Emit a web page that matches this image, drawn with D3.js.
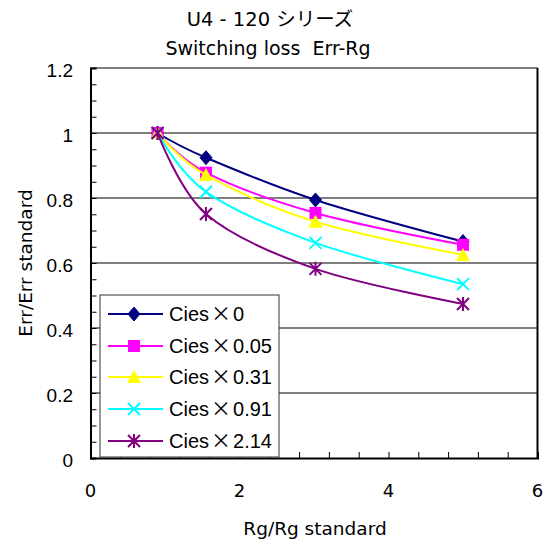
<!DOCTYPE html>
<html><head><meta charset="utf-8">
<script src="https://cdn.jsdelivr.net/npm/d3@7"></script>
<style>body{margin:0;background:#fff}svg{display:block}text{white-space:pre}</style>
</head><body>
<script>
const xValues = [0.9, 1.55, 3.02, 5.0];
const seriesNames = ["Cies×0", "Cies×0.05", "Cies×0.31", "Cies×0.91", "Cies×2.14"];
const s0 = [1.0, 0.924, 0.794, 0.666];
const s1 = [1.0, 0.878, 0.754, 0.656];
const s2 = [1.0, 0.871, 0.727, 0.625];
const s3 = [1.0, 0.819, 0.662, 0.535];
const s4 = [1.0, 0.751, 0.582, 0.474];
const yTicks = [0, 0.2, 0.4, 0.6, 0.8, 1, 1.2];
const xTicks = [0, 2, 4, 6];
const titleLines = ["U4 - 120 シリーズ", "Switching loss  Err-Rg"];
const xLabel = "Rg/Rg standard";
const yLabel = "Err/Err standard";

const colors = ["#000080", "#FF00FF", "#FFFF00", "#00FFFF", "#800080"];
const shapes = ["diamond", "square", "triangle", "x", "star"];
const allSeries = [s0, s1, s2, s3, s4];

const W = 549, H = 539;
const L = 90.5, R = 537.5, T = 68, B = 458;
const svg = d3.select("body").append("svg").attr("width", W).attr("height", H);
const font = "'DejaVu Sans', 'Noto Sans CJK JP', sans-serif";
const arial = "'Liberation Sans', Arial, sans-serif";
const cjk = "'Noto Sans CJK JP', sans-serif";

const x = d3.scaleLinear().domain([0, 6]).range([L, R]);
const y = d3.scaleLinear().domain([0, 1.2]).range([B, T]);

// titles
svg.append("text").attr("x", 270).attr("y", 26).attr("text-anchor", "middle")
  .style("font-family", font).style("font-size", "19.5px").text(titleLines[0]);
svg.append("text").attr("x", 268).attr("y", 55).attr("text-anchor", "middle")
  .style("font-family", font).style("font-size", "19px").text(titleLines[1]);

// gridlines
svg.append("g").selectAll("line").data(yTicks.filter(v => v > 0 && v < 1.2)).join("line")
  .attr("x1", L).attr("x2", R).attr("y1", d => y(d)).attr("y2", d => y(d))
  .attr("stroke", "#000").attr("stroke-width", 1.2);

// frame top/right
svg.append("line").attr("x1", L).attr("x2", R).attr("y1", T).attr("y2", T).attr("stroke", "#808080").attr("stroke-width", 2);
svg.append("line").attr("x1", R).attr("x2", R).attr("y1", T).attr("y2", B).attr("stroke", "#000").attr("stroke-width", 2);

// y axis with inside ticks
const yAxis = d3.axisLeft(y).tickValues(d3.range(0, 1.2001, 0.05)).tickSize(-6).tickFormat("");
const gy = svg.append("g").attr("transform", `translate(${L},0)`).call(yAxis);
gy.select(".domain").attr("stroke-width", 2);
gy.selectAll(".tick line").attr("stroke-width", 1);
svg.append("g").selectAll("text").data(yTicks).join("text")
  .attr("x", 73).attr("y", d => y(d) + 9).attr("text-anchor", "end")
  .style("font-family", arial).style("font-size", "19px")
  .text(d => d3.format("~g")(d));

// x axis with inside ticks
const xAxis = d3.axisBottom(x).tickValues(d3.range(0, 6.001, 0.4)).tickSize(-6).tickFormat("");
const gx = svg.append("g").attr("transform", `translate(0,${B})`).call(xAxis);
gx.select(".domain").attr("stroke-width", 2);
gx.selectAll(".tick line").attr("stroke-width", 1);
svg.append("g").selectAll("text").data(xTicks).join("text")
  .attr("x", d => x(d)).attr("y", 497).attr("text-anchor", "middle")
  .style("font-family", font).style("font-size", "18px").text(d => d);

// axis labels
svg.append("text").attr("x", 315).attr("y", 535).attr("text-anchor", "middle")
  .style("font-family", font).style("font-size", "18.5px").text(xLabel);
svg.append("text").attr("transform", "translate(32,263) rotate(-90)").attr("text-anchor", "middle")
  .style("font-family", font).style("font-size", "18.5px").text(yLabel);

function drawMarker(g, shape, color, cx, cy) {
  const s = 6;
  if (shape === "diamond") {
    g.append("path").attr("d", `M${cx},${cy - s - 1}L${cx + s},${cy}L${cx},${cy + s + 1}L${cx - s},${cy}Z`).attr("fill", color).attr("stroke", color);
  } else if (shape === "square") {
    g.append("rect").attr("x", cx - s).attr("y", cy - s).attr("width", 2 * s).attr("height", 2 * s).attr("fill", color);
  } else if (shape === "triangle") {
    g.append("path").attr("d", `M${cx},${cy - s - 1}L${cx + s + 1},${cy + s}L${cx - s - 1},${cy + s}Z`).attr("fill", color);
  } else if (shape === "x") {
    g.append("path").attr("d", `M${cx - s},${cy - s}L${cx + s},${cy + s}M${cx + s},${cy - s}L${cx - s},${cy + s}`).attr("stroke", color).attr("stroke-width", 2);
  } else if (shape === "star") {
    g.append("path").attr("d", `M${cx - s},${cy - s}L${cx + s},${cy + s}M${cx + s},${cy - s}L${cx - s},${cy + s}M${cx},${cy - s - 1}L${cx},${cy + s + 1}`).attr("stroke", color).attr("stroke-width", 2);
  }
}

// series
const line = d3.line().x(d => x(d[0])).y(d => y(d[1])).curve(d3.curveCardinal.tension(0));
allSeries.forEach((vals, i) => {
  const pts = xValues.map((xv, j) => [xv, vals[j]]);
  const g = svg.append("g");
  g.append("path").attr("d", line(pts)).attr("fill", "none").attr("stroke", colors[i]).attr("stroke-width", 2);
  pts.forEach(p => drawMarker(g, shapes[i], colors[i], x(p[0]), y(p[1])));
});

// legend
const lg = svg.append("g");
lg.append("rect").attr("x", 100).attr("y", 295).attr("width", 179).attr("height", 162)
  .attr("fill", "#fff").attr("stroke", "#333").attr("stroke-width", 1);
const legY = [314, 346, 377, 409, 441];
seriesNames.forEach((name, i) => {
  lg.append("line").attr("x1", 108).attr("x2", 163).attr("y1", legY[i]).attr("y2", legY[i])
    .attr("stroke", colors[i]).attr("stroke-width", 2);
  drawMarker(lg, shapes[i], colors[i], 134, legY[i]);
  const t = lg.append("text").attr("x", 169).attr("y", legY[i] + 7)
    .style("font-family", arial).style("font-size", "20px");
  const parts = name.split("×");
  t.append("tspan").text(parts[0]);
  t.append("tspan").attr("dx", 2).style("font-family", cjk).text("×");
  t.append("tspan").attr("dx", 2).text(parts[1]);
});
</script>
</body></html>
